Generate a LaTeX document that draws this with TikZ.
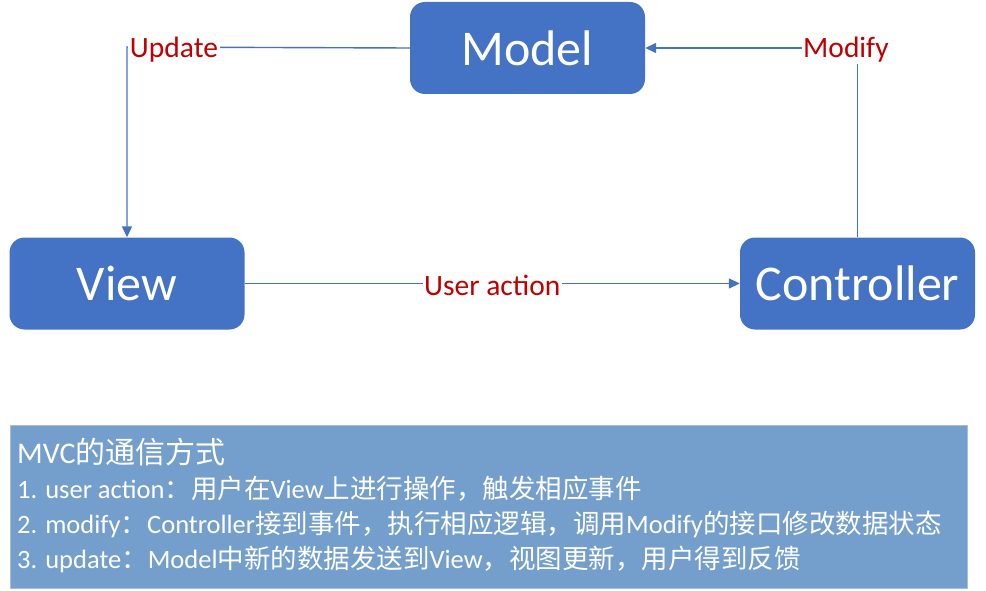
\documentclass[tikz,border=0pt]{standalone}
\usepackage{fontspec}
\setmainfont{Carlito}
\newfontfamily\cjk{Noto Sans CJK SC}
\usetikzlibrary{arrows.meta}
\definecolor{boxblue}{RGB}{68,114,196}
\definecolor{noteblue}{RGB}{116,159,205}
\definecolor{noteedge}{RGB}{168,190,216}
\definecolor{labelred}{RGB}{192,0,0}
\newcommand{\zh}[1]{{\cjk #1}}
\tikzset{
  part/.style={draw=none,fill=boxblue,rounded corners=15pt,text=white,
    minimum width=235pt,minimum height=92pt,inner sep=0pt,
    font=\fontsize{50}{58}\selectfont},
  flow/.style={draw=boxblue,line width=1.4pt,-{Triangle[length=11pt,width=10pt]}},
  tag/.style={fill=white,text=labelred,inner sep=1.5pt,
    font=\fontsize{29.5}{34}\selectfont},
  noteline/.style={anchor=base west,text=white,inner sep=0pt,
    font=\fontsize{26.5}{30}\selectfont}
}
\begin{document}
\begin{tikzpicture}[x=1pt,y=-1pt]
\useasboundingbox (0,0) rectangle (986,591);
\node[part](model) at (527.5,48) {Model};
\node[part](view) at (127,283.5) {View};
\node[part](controller) at (857.5,283.5) {Controller};
% connectors
\draw[flow] (model.west) -- (127,47) -- (view.north);
\draw[flow] (controller.north) |- (model.east);
\draw[flow] (view.east) -- node[tag,yshift=-2pt](act){User action} (controller.west);
\node[tag](upd) at (174,49.5) {Update};
\node[tag](mod) at (846,49.5) {Modify};
% notes
\node[draw=noteedge,line width=1pt,fill=noteblue,anchor=north west,
  minimum width=957pt,minimum height=163pt,inner sep=0pt](notes) at (10,425) {};
\node[noteline,font=\fontsize{30}{34}\selectfont](t0) at (17,463) {MVC\zh{的通信方式}};
\node[noteline](t1) at (17,498) {1. user action\zh{：用户在}View\zh{上进行操作，触发相应事件}};
\node[noteline](t2) at (17,533) {2. modify\zh{：}Controller\zh{接到事件，执行相应逻辑，调用}Modify\zh{的接口修改数据状态}};
\node[noteline](t3) at (17,568) {3. update\zh{：}Model\zh{中新的数据发送到}View\zh{，视图更新，用户得到反馈}};
\end{tikzpicture}
\end{document}
